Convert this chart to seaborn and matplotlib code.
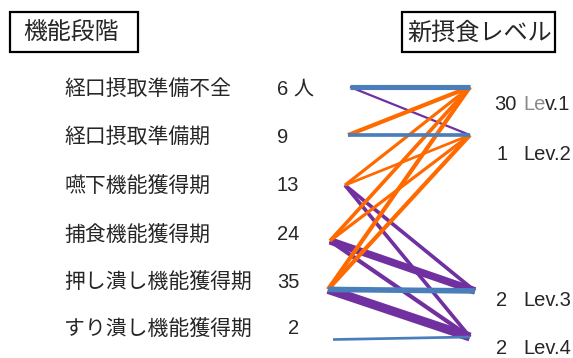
import pandas as pd
import seaborn as sns
import matplotlib.pyplot as plt
from matplotlib.patches import Rectangle

# stages (left) and new feeding levels (right)
stages = ["経口摂取準備不全", "経口摂取準備期", "嚥下機能獲得期",
          "捕食機能獲得期", "押し潰し機能獲得期", "すり潰し機能獲得期"]
stage_counts = ["6 人", "9", "13", "24", "35", "2"]
levels = ["Lev.1", "Lev.2", "Lev.3", "Lev.4"]
level_counts = ["30", "1", "2", "2"]

# transitions stage -> level (estimated number of people)
flow_from = [0, 0, 1, 1, 2, 2, 2, 2, 3, 3, 3, 3, 4, 4, 4, 4, 5]
flow_to   = [0, 1, 1, 0, 0, 1, 2, 3, 0, 1, 2, 3, 0, 1, 2, 3, 3]
flow_n    = [7, 1, 4, 5, 3, 2, 4, 4, 4, 3, 12, 5, 5, 5, 8, 15, 2]
flow_kind = ["same", "down", "same", "up", "up", "up", "down", "down",
             "up", "up", "down", "down", "up", "up", "same", "down", "same"]

sns.set_style("white")
plt.rcParams['font.family'] = ['Liberation Sans', 'Noto Sans CJK JP']

# node layout (left x offsets / vertical slots)
stage_x = [0.153, 0.139, 0.118, 0.014, 0.0, 0.035]
stage_y = [0.0, 0.95, 1.94, 3.04, 4.0, 4.99]
level_x = [0.986, 0.986, 1.02, 0.986]
level_y = [0.0, 0.95, 4.03, 4.94]

rows = []
for i, (a, b, n, k) in enumerate(zip(flow_from, flow_to, flow_n, flow_kind)):
    rows.append(dict(flow=i, x=stage_x[a], y=stage_y[a], n=n, kind=k))
    rows.append(dict(flow=i, x=level_x[b], y=level_y[b], n=n, kind=k))
df = pd.DataFrame(rows)

fig = plt.figure(figsize=(5.73, 3.58), dpi=100)
ax = fig.add_axes([0.5473, 0.0078, 0.3016, 0.7916])
sns.lineplot(data=df, x="x", y="y", units="flow", estimator=None, sort=False,
             hue="kind", palette={"same": "#4a7ebb", "up": "#ff6a00", "down": "#7030a0"},
             hue_order=["down", "up", "same"],
             size="n", sizes=(1.6, 6.5), legend=False, ax=ax, solid_capstyle="butt")
ax.set_xlim(-0.1, 1.1)
ax.set_ylim(5.3, -0.3)
ax.axis("off")

W, H = 573, 358
def ftext(x, y, s, **kw):
    return fig.text(x / W, 1 - y / H, s, va="center", **kw)

# header boxes
fig.patches.append(Rectangle((10 / W, 1 - 52 / H), 128 / W, 40 / H, transform=fig.transFigure,
                             fill=False, ec="black", lw=1.6))
fig.patches.append(Rectangle((402 / W, 1 - 52 / H), 153 / W, 40 / H, transform=fig.transFigure,
                             fill=False, ec="black", lw=1.6))
ftext(23, 33, "機能段階", fontsize=17.2, family=['Noto Sans CJK JP'])
ftext(407, 33, "新摂食レベル", fontsize=17.4, family=['Noto Sans CJK JP'])

text_y = [89, 137, 186, 235, 282, 329]
for s, c, y in zip(stages, stage_counts, text_y):
    ftext(64, y, s, fontsize=15, family=['Noto Sans CJK JP'])
    ftext(288 if c == "2" else 277, y, c, fontsize=14.5)

lev_y = [104, 154, 301, 348]
for i, (s, c, y) in enumerate(zip(levels, level_counts, lev_y)):
    ftext(494 if len(c) == 2 else 496, y, c, fontsize=14.5)
    if i == 0:
        t = ftext(523, y, s[:2], fontsize=14.5, color="#8a8a8a")
        ax.annotate(s[2:], xy=(1, 0.5), xycoords=t, va="center", ha="left",
                    fontsize=14.5, annotation_clip=False)
    else:
        ftext(523, y, s, fontsize=14.5)

fig.savefig("out.png", dpi=100, facecolor="white")
